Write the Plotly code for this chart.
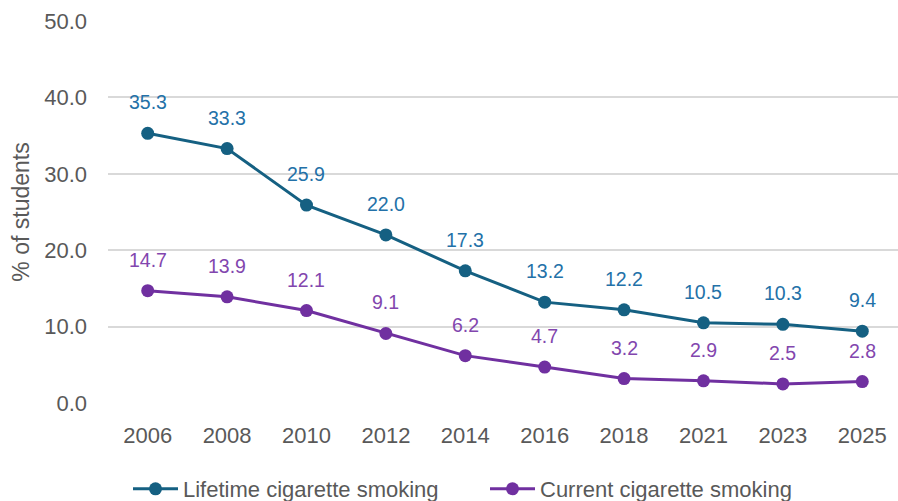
import plotly.graph_objects as go

years = ["2006", "2008", "2010", "2012", "2014", "2016", "2018", "2021", "2023", "2025"]
lifetime = [35.3, 33.3, 25.9, 22.0, 17.3, 13.2, 12.2, 10.5, 10.3, 9.4]
current = [14.7, 13.9, 12.1, 9.1, 6.2, 4.7, 3.2, 2.9, 2.5, 2.8]
y_ticks = [0, 10, 20, 30, 40, 50]

LIFE_LINE = "#156082"
LIFE_TEXT = "#2371A8"
CUR_LINE = "#7030A0"
CUR_TEXT = "#8246AE"
GRAY = "#595959"
FONT = "Liberation Sans, Arial, sans-serif"

fig = go.Figure()
series = [
    ("Lifetime cigarette smoking", lifetime, LIFE_LINE, LIFE_TEXT),
    ("Current cigarette smoking", current, CUR_LINE, CUR_TEXT),
]
for name, vals, line_col, text_col in series:
    fig.add_trace(go.Scatter(
        x=years, y=vals, name=name, mode="lines+markers",
        line=dict(color=line_col, width=3),
        marker=dict(color=line_col, size=13),
        cliponaxis=False,
    ))
    # value labels sit above each point (category index positions)
    for i, v in enumerate(vals):
        fig.add_annotation(
            x=i, y=v, xref="x", yref="y", text=f"{v:.1f}",
            showarrow=False, yshift=31,
            font=dict(family=FONT, size=19.5, color=text_col),
        )

fig.update_layout(
    width=898, height=501,
    margin=dict(l=108, r=0, t=21, b=98, autoexpand=False),
    paper_bgcolor="white", plot_bgcolor="white",
    font=dict(family=FONT, color=GRAY),
    showlegend=True,
    legend=dict(
        orientation="h", xref="container", x=128 / 898, xanchor="left",
        yref="container", y=12 / 501, yanchor="middle",
        font=dict(family=FONT, size=22, color=GRAY),
        entrywidth=297, itemwidth=45,
    ),
)
fig.update_xaxes(
    type="category", range=[-0.5, 9.45], automargin=False,
    showgrid=False, showline=False, zeroline=False, ticks="",
    ticklabelstandoff=17,
    tickfont=dict(family=FONT, size=22, color=GRAY),
)
fig.update_yaxes(
    range=[0, 50], tickvals=y_ticks, tickformat=".1f", automargin=False,
    showgrid=True, gridcolor="#D9D9D9", gridwidth=2,
    zeroline=False, showline=False, ticks="", ticklabelstandoff=20,
    tickfont=dict(family=FONT, size=22, color=GRAY),
    title=dict(text="% of students", font=dict(family=FONT, size=23, color=GRAY), standoff=8),
)

fig.write_html("out.html")
